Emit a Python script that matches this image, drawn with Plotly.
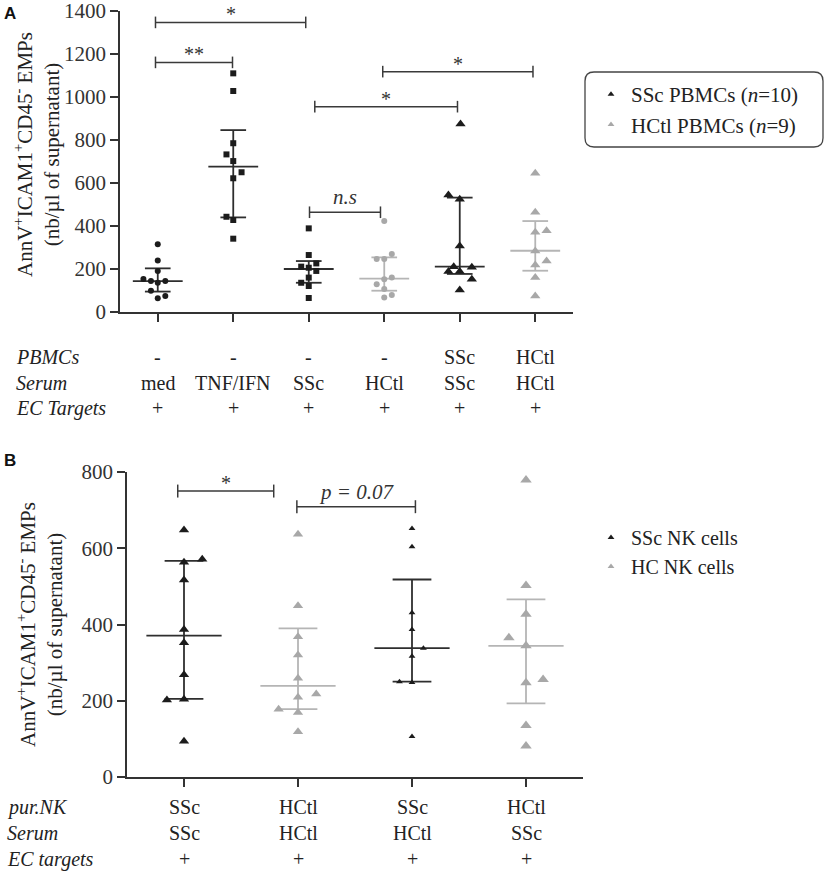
import plotly.graph_objects as go

W, H = 827, 875

# ---------------- panel A : EMPs after PBMC / serum exposure ----------------
a_pbmcs = ["-", "-", "-", "-", "SSc", "HCtl"]
a_serum = ["med", "TNF/IFN", "SSc", "HCtl", "SSc", "HCtl"]
a_ec = ["+", "+", "+", "+", "+", "+"]
a_rows = ["PBMCs", "Serum", "EC Targets"]

# individual wells per group, with the horizontal spread seen in the figure
a_vals = [
    [315, 240, 191, 153, 144, 136, 144, 99, 64, 74],
    [1110, 1028, 785, 733, 702, 650, 622, 443, 428, 341],
    [389, 265, 211, 226, 206, 191, 160, 136, 121, 65],
    [423, 270, 247, 247, 160, 152, 129, 107, 68, 79],
    [874, 544, 524, 307, 211, 208, 188, 188, 152, 102],
    [645, 464, 371, 378, 284, 219, 237, 160, 74],
]
a_offs = [
    [0, 0, 0, -0.19, -0.09, 0, 0.1, -0.09, 0, 0.1],
    [0, 0, 0, -0.09, 0, 0.11, 0, -0.09, 0, 0],
    [0, 0, -0.1, 0.1, 0, 0.1, 0, -0.1, 0, 0],
    [0, 0.1, -0.1, 0, 0.1, 0, -0.1, 0, 0, 0.1],
    [0.01, -0.15, 0, 0, -0.08, 0.16, -0.15, 0, 0.16, 0],
    [0, 0, 0, 0.15, 0, 0, 0.15, 0, 0],
]
a_median = [144, 676, 200, 155, 211, 285]
a_q1 = [95, 440, 136, 99, 177, 192]
a_q3 = [203, 846, 237, 254, 532, 423]

a_br_x0 = [-0.03, -0.03, 2.98, 2.08, 2.01]
a_br_x1 = [1.96, 0.99, 4.97, 3.97, 2.95]
a_br_y = [1347, 1161, 1118, 955, 464]
a_br_txt = ["*", "**", "*", "*", "<i>n.s</i>"]

# ---------------- panel B : purified NK cells ----------------
b_nk = ["SSc", "HCtl", "SSc", "HCtl"]
b_serum = ["SSc", "HCtl", "HCtl", "SSc"]
b_ec = ["+", "+", "+", "+"]
b_rows = ["pur.NK", "Serum", "EC targets"]

b_vals = [
    [648, 563, 571, 517, 387, 352, 268, 204, 202, 94],
    [637, 449, 368, 320, 259, 209, 218, 178, 169, 119],
    [652, 604, 431, 387, 338, 317, 250, 248, 106],
    [779, 502, 427, 365, 344, 247, 256, 135, 81],
]
b_offs = [
    [0, 0, 0.16, 0, 0, 0, 0, 0, -0.15, 0],
    [0, 0, 0, 0, 0, 0, 0.16, -0.17, 0, 0],
    [0, 0, 0, 0, 0.1, 0, -0.11, 0, 0],
    [0, 0, 0, -0.15, 0, 0, 0.15, 0, 0],
]
b_median = [371, 239, 338, 344]
b_q1 = [205, 178, 250, 193]
b_q3 = [567, 390, 518, 466]

b_br_x0 = [-0.055, 0.99]
b_br_x1 = [0.787, 2.03]
b_br_y = [750, 709]
b_br_txt = ["*", "<i>p = 0.07</i>"]

# ---------------- styles ----------------
BLACK = "#1c1c1c"
GREY = "#a8a8a8"
EB_BLACK = "#2e2e2e"
EB_GREY = "#b5b5b5"
SERIF = "Liberation Serif"

a_style = [("circle", BLACK, 6), ("square", BLACK, 6), ("square", BLACK, 6),
           ("circle", GREY, 6), ("triangle-up", BLACK, 9), ("triangle-up", GREY, 9)]
b_style = [("triangle-up", BLACK, 9), ("triangle-up", GREY, 9),
           ("triangle-up", BLACK, 6), ("triangle-up", GREY, 10)]


# positions below are in pixels measured on the reference
def py(px):
    return 1 - px / H


def px_x(px):
    return px / W


def errbar(i, med, lo, hi, wm=0.33, wc=0.17):
    xs = [i - wm, i + wm, None, i - wc, i + wc, None, i - wc, i + wc, None, i, i]
    ys = [med, med, None, lo, lo, None, hi, hi, None, lo, hi]
    return xs, ys


def bracket(x0, x1, y, h):
    return [x0, x0, None, x0, x1, None, x1, x1], [y - h, y + h, None, y, y, None, y - h, y + h]


fig = go.Figure()

panels = [
    (a_vals, a_offs, a_median, a_q1, a_q3, a_style, "x", "y",
     (a_br_x0, a_br_x1, a_br_y, a_br_txt), 27),
    (b_vals, b_offs, b_median, b_q1, b_q3, b_style, "x2", "y2",
     (b_br_x0, b_br_x1, b_br_y, b_br_txt), 17),
]

annotations = []
for vals, offs, med, q1, q3, style, xa, ya, br, tick_h in panels:
    for i, (v, o) in enumerate(zip(vals, offs)):
        sym, col, sz = style[i]
        ebcol = EB_GREY if col == GREY else EB_BLACK
        ex, ey = errbar(i, med[i], q1[i], q3[i])
        fig.add_trace(go.Scatter(x=ex, y=ey, mode="lines", xaxis=xa, yaxis=ya,
                                 line=dict(color=ebcol, width=1.8),
                                 showlegend=False, hoverinfo="skip"))
        fig.add_trace(go.Scatter(x=[i + d for d in o], y=v, mode="markers",
                                 xaxis=xa, yaxis=ya, cliponaxis=False,
                                 marker=dict(symbol=sym, color=col, size=sz, line=dict(width=0)),
                                 showlegend=False))
    for x0, x1, y, t in zip(*br):
        bx, by = bracket(x0, x1, y, tick_h)
        fig.add_trace(go.Scatter(x=bx, y=by, mode="lines", xaxis=xa, yaxis=ya,
                                 line=dict(color="#3a3a3a", width=1.5),
                                 showlegend=False, hoverinfo="skip"))
        star = t.startswith("*")
        annotations.append(dict(x=(x0 + x1) / 2, y=y, xref=xa, yref=ya, text=t,
                                showarrow=False, xanchor="center", yanchor="bottom",
                                yshift=-5 if star else 1,
                                font=dict(family=SERIF, size=20 if star else 21, color="#333")))

# legend entries
for name, col, lg in [("SSc PBMCs (<i>n</i>=10)", BLACK, "legend"),
                      ("HCtl PBMCs (<i>n</i>=9)", GREY, "legend"),
                      ("SSc NK cells", BLACK, "legend2"),
                      ("HC NK cells", GREY, "legend2")]:
    fig.add_trace(go.Scatter(x=[None], y=[None], mode="markers", legend=lg,
                             marker=dict(symbol="triangle-up", color=col, size=6),
                             name=name))

# condition rows under each x axis
row_font = dict(family=SERIF, size=20, color="#222")
for xa, cols, heads, ys, hx in [
    ("x", [a_pbmcs, a_serum, a_ec], a_rows, [357, 383, 408], 14),
    ("x2", [b_nk, b_serum, b_ec], b_rows, [807, 833, 859], 5),
]:
    for col, head, yy in zip(cols, heads, ys):
        annotations.append(dict(x=px_x(hx), y=py(yy), xref="paper", yref="paper",
                                text="<i>%s</i>" % head, showarrow=False,
                                xanchor="left", yanchor="middle", font=row_font))
        for i, t in enumerate(col):
            annotations.append(dict(x=i, y=py(yy), xref=xa, yref="paper", text=t,
                                    showarrow=False, xanchor="center", yanchor="middle",
                                    font=row_font))

ytitle = "AnnV<sup>+</sup>ICAM1<sup>+</sup>CD45<sup>-</sup> EMPs<br>(nb/µl of supernatant)"
for cy, cx in [(155, 37), (625, 40)]:
    annotations.append(dict(x=px_x(cx), y=py(cy), xref="paper", yref="paper", text=ytitle,
                            textangle=-90, showarrow=False, xanchor="center", yanchor="middle",
                            font=dict(family=SERIF, size=21, color="#222")))

for lab, yy in [("A", 13), ("B", 460)]:
    annotations.append(dict(x=px_x(2), y=py(yy), xref="paper", yref="paper",
                            text="<b>%s</b>" % lab, showarrow=False, xanchor="left",
                            yanchor="middle",
                            font=dict(family="Liberation Sans", size=17, color="#111")))

# rounded box around panel A legend
x0, x1, y0, y1, r = px_x(585), px_x(823), py(72), py(147), 9
rx, ry = r / W, r / H
box = (f"M {x0+rx},{y0} L {x1-rx},{y0} Q {x1},{y0} {x1},{y0-ry} "
       f"L {x1},{y1+ry} Q {x1},{y1} {x1-rx},{y1} L {x0+rx},{y1} "
       f"Q {x0},{y1} {x0},{y1+ry} L {x0},{y0-ry} Q {x0},{y0} {x0+rx},{y0} Z")

axis_common = dict(showline=True, linecolor="#333", linewidth=1.5, ticks="outside",
                   ticklen=8, tickwidth=1.5, tickcolor="#333", showgrid=False,
                   zeroline=False, automargin=False, ticklabeloverflow="allow",
                   tickfont=dict(family=SERIF, size=21, color="#333"))

fig.update_layout(
    width=W, height=H,
    margin=dict(l=0, r=0, t=0, b=0, pad=0, autoexpand=False),
    paper_bgcolor="white", plot_bgcolor="white",
    xaxis=dict(domain=[px_x(120), px_x(573)], range=[-0.5, 5.5], tickvals=list(range(6)),
               showticklabels=False, anchor="y", **axis_common),
    yaxis=dict(domain=[py(312), py(11)], range=[0, 1400], dtick=200, anchor="x",
               **axis_common),
    xaxis2=dict(domain=[px_x(127), px_x(583)], range=[-0.5, 3.5], tickvals=list(range(4)),
                showticklabels=False, anchor="y2", **axis_common),
    yaxis2=dict(domain=[py(777), py(472)], range=[0, 800], dtick=200, anchor="x2",
                **axis_common),
    legend=dict(x=px_x(591), y=py(74), xanchor="left", yanchor="top",
                bgcolor="rgba(0,0,0,0)", font=dict(family=SERIF, size=21, color="#222"),
                tracegroupgap=0),
    legend2=dict(x=px_x(591), y=py(518), xanchor="left", yanchor="top",
                 bgcolor="rgba(0,0,0,0)", font=dict(family=SERIF, size=20, color="#222"),
                 tracegroupgap=0),
    shapes=[dict(type="path", path=box, xref="paper", yref="paper",
                 line=dict(color="#444", width=1.3))],
    annotations=annotations,
)

# the page's default 8px body margin would push the figure off the window
fig.write_html("out.html", config={"displayModeBar": False},
               post_script="document.body.style.margin='0';")
